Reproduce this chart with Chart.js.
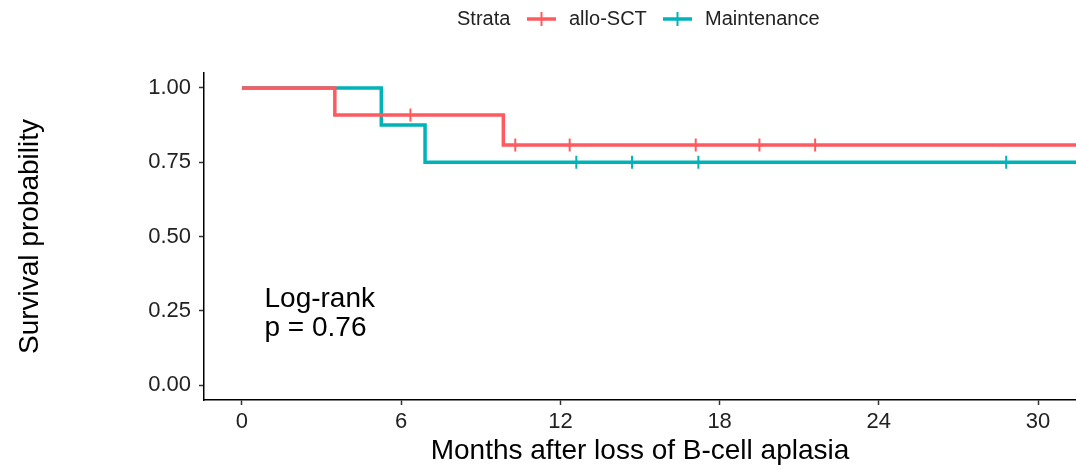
<!DOCTYPE html>
<html>
<head>
<meta charset="utf-8">
<script src="https://cdn.jsdelivr.net/npm/chart.js@4/dist/chart.umd.min.js"></script>
<style>
    html, body { margin: 0; padding: 0; background: #fff; overflow: hidden; }
</style>
</head>
<body>
<canvas id="kmChart" width="1076" height="470"></canvas>
<script>
// survival curves (step points, months / probability)
const alloTimes = [0, 3.5, 9.85, 31.6];
const alloSurv = [1, 0.909, 0.808, 0.808];
const maintTimes = [0, 5.25, 6.9, 31.6];
const maintSurv = [1, 0.875, 0.75, 0.75];

// censored observations
const alloCensorTimes = [6.35, 10.3, 12.35, 17.1, 19.5, 21.6];
const alloCensorSurv = [0.909, 0.808, 0.808, 0.808, 0.808, 0.808];
const maintCensorTimes = [12.6, 14.7, 17.2, 28.8];
const maintCensorSurv = [0.75, 0.75, 0.75, 0.75];

const xTicks = [0, 6, 12, 18, 24, 30];
const yTicks = [0, 0.25, 0.5, 0.75, 1];
const yTickLabels = ["0.00", "0.25", "0.50", "0.75", "1.00"];
const strata = ["allo-SCT", "Maintenance"];

const red = "#FF5A5F";
const teal = "#00B3B8";
const font = "'Liberation Sans', Arial, sans-serif";

function pts(xs, ys) {
    return xs.map((x, i) => ({ x: x, y: ys[i] }));
}

const extras = {
    id: "extras",
    afterDraw(chart) {
        const ctx = chart.ctx;
        const xs = chart.scales.x;
        ctx.save();
        // log-rank annotation
        ctx.fillStyle = "#000";
        ctx.font = "28px " + font;
        ctx.textBaseline = "alphabetic";
        ctx.textAlign = "left";
        const ax = xs.getPixelForValue(0.85);
        ctx.fillText("Log-rank", ax, 307);
        ctx.fillText("p = 0.76", ax, 336);

        // legend
        ctx.font = "20px " + font;
        ctx.textBaseline = "middle";
        ctx.fillStyle = "#222";
        ctx.fillText("Strata", 457, 19);
        const items = [
            { label: strata[0], color: red, x0: 527 },
            { label: strata[1], color: teal, x0: 663 },
        ];
        items.forEach((it) => {
            ctx.strokeStyle = it.color;
            ctx.lineWidth = 3.5;
            ctx.beginPath();
            ctx.moveTo(it.x0, 19);
            ctx.lineTo(it.x0 + 29, 19);
            ctx.stroke();
            ctx.lineWidth = 2;
            ctx.beginPath();
            ctx.moveTo(it.x0 + 14.5, 12);
            ctx.lineTo(it.x0 + 14.5, 26);
            ctx.stroke();
            ctx.fillStyle = "#222";
            ctx.fillText(it.label, it.x0 + 42, 19);
        });
        ctx.restore();
    },
};

new Chart(document.getElementById("kmChart"), {
    type: "scatter",
    data: {
        datasets: [
            {
                label: strata[0],
                type: "line",
                data: pts(alloTimes, alloSurv),
                stepped: "before",
                borderColor: red,
                borderWidth: 3.5,
                pointRadius: 0,
                fill: false,
            },
            {
                label: strata[1],
                type: "line",
                data: pts(maintTimes, maintSurv),
                stepped: "before",
                borderColor: teal,
                borderWidth: 3.5,
                pointRadius: 0,
                fill: false,
            },
            {
                label: strata[0] + " censored",
                data: pts(alloCensorTimes, alloCensorSurv),
                pointStyle: "line",
                rotation: 90,
                pointRadius: 6.5,
                borderColor: red,
                borderWidth: 2,
            },
            {
                label: strata[1] + " censored",
                data: pts(maintCensorTimes, maintCensorSurv),
                pointStyle: "line",
                rotation: 90,
                pointRadius: 6.5,
                borderColor: teal,
                borderWidth: 2,
            },
        ],
    },
    options: {
        responsive: false,
        animation: false,
        layout: { autoPadding: false, padding: { top: 73, right: 0, bottom: 0, left: 0 } },
        plugins: {
            legend: { display: false },
            tooltip: { enabled: false },
        },
        scales: {
            x: {
                type: "linear",
                min: -1.43,
                max: 31.43,
                afterBuildTicks: (s) => { s.ticks = xTicks.map((v) => ({ value: v })); },
                afterFit: (s) => { s.height = 70; s.paddingRight = 0; s.paddingLeft = 0; },
                ticks: {
                    color: "#222",
                    font: { family: font, size: 22 },
                    padding: 4,
                    maxRotation: 0,
                },
                grid: { display: true, drawOnChartArea: false, tickLength: 5, color: "#333", tickWidth: 1.5 },
                border: { display: true, color: "#000", width: 1.5 },
                title: {
                    display: true,
                    text: "Months after loss of B-cell aplasia",
                    color: "#000",
                    font: { family: font, size: 28 },
                    padding: { top: 0, bottom: 2 },
                },
            },
            y: {
                type: "linear",
                min: -0.0505,
                max: 1.0505,
                afterBuildTicks: (s) => { s.ticks = yTicks.map((v) => ({ value: v })); },
                afterFit: (s) => { s.width = 204; s.paddingTop = 0; s.paddingBottom = 0; },
                ticks: {
                    color: "#222",
                    font: { family: font, size: 22 },
                    padding: 8,
                    callback: (v) => yTickLabels[yTicks.indexOf(v)],
                },
                grid: { display: true, drawOnChartArea: false, tickLength: 5, color: "#333", tickWidth: 1.5 },
                border: { display: true, color: "#000", width: 1.5 },
                title: {
                    display: true,
                    text: "Survival probability",
                    color: "#000",
                    font: { family: font, size: 28 },
                    padding: { top: 13, bottom: 0 },
                },
            },
        },
    },
    plugins: [extras],
});
</script>
</body>
</html>
